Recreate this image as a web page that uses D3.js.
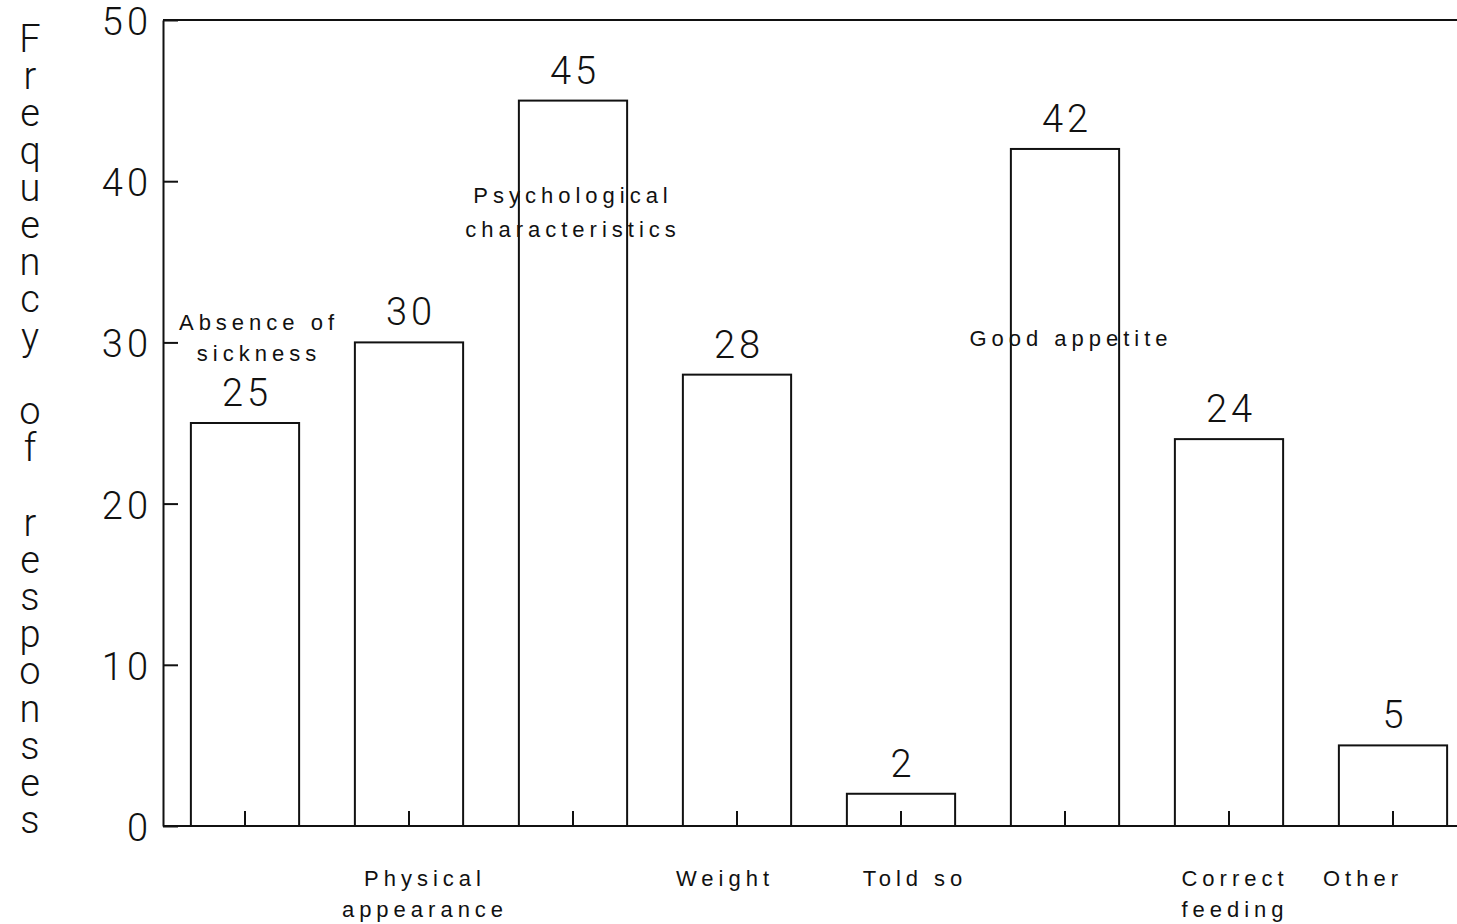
<!DOCTYPE html>
<html>
<head>
<meta charset="utf-8">
<script src="https://cdn.jsdelivr.net/npm/d3@7"></script>
<style>
  html, body { margin: 0; padding: 0; background: #fff; }
  svg { display: block; }
  .num { font-family: Roboto, "Liberation Sans", Arial, sans-serif; font-weight: 300; fill: #111; }
  .lbl { font-family: "Liberation Sans", Arial, sans-serif; fill: #111; letter-spacing: 5px; }
</style>
</head>
<body>
<svg id="chart" width="1457" height="924"></svg>
<script>
// --- DATA ---
var categories = ["Absence of sickness", "Physical appearance", "Psychological characteristics",
                  "Weight", "Told so", "Good appetite", "Correct feeding", "Other"];
var values = [25, 30, 45, 28, 2, 42, 24, 5];
var labelLines = [["Absence of", "sickness"], ["Physical", "appearance"], ["Psychological", "characteristics"],
                  ["Weight"], ["Told so"], ["Good appetite"], ["Correct", "feeding"], ["Other"]];
var labelPlacement = ["above", "below", "inside", "below", "below", "inside", "below", "below"];
var yTicks = [0, 10, 20, 30, 40, 50];
var yTitle = "Frequency of responses";

// --- SETUP ---
var W = 1457, H = 924;
var plotLeft = 163, plotTop = 20, plotBottom = 826;
var svg = d3.select("#chart");

var x = d3.scaleBand()
    .domain(categories)
    .range([plotLeft, plotLeft + 8 * 164])
    .paddingInner(0.34)
    .paddingOuter(0.17);

var y = d3.scaleLinear().domain([0, 50]).range([plotBottom, plotTop]);

// top border
svg.append("line")
    .attr("x1", plotLeft).attr("x2", W)
    .attr("y1", y(50)).attr("y2", y(50))
    .attr("stroke", "#111").attr("stroke-width", 2);

// bars
svg.selectAll("rect.bar")
    .data(categories)
    .enter().append("rect")
    .attr("class", "bar")
    .attr("x", d => x(d))
    .attr("y", (d, i) => y(values[i]))
    .attr("width", x.bandwidth())
    .attr("height", (d, i) => y(0) - y(values[i]))
    .attr("fill", "#fff")
    .attr("stroke", "#111")
    .attr("stroke-width", 2);

// x axis: ticks pointing up into the bars, no labels
var xAxis = svg.append("g")
    .attr("transform", "translate(0," + plotBottom + ")")
    .call(d3.axisBottom(x).tickSize(-15).tickSizeOuter(0).tickFormat(""));
xAxis.select(".domain").attr("d", "M" + plotLeft + ",0H" + W);
xAxis.selectAll("line, path").attr("stroke", "#111").attr("stroke-width", 2);

// y axis: inward ticks
var yAxis = svg.append("g")
    .attr("transform", "translate(" + plotLeft + ",0)")
    .call(d3.axisLeft(y).tickValues(yTicks).tickSize(-15).tickSizeOuter(0).tickPadding(11));
yAxis.selectAll("line, path").attr("stroke", "#111").attr("stroke-width", 2);
yAxis.attr("font-family", null).attr("font-size", null);
yAxis.selectAll("text")
    .attr("class", "num")
    .attr("font-size", 38)
    .attr("dy", "0.38em")
    .attr("fill", null)
    .style("letter-spacing", "4px");

// value labels
svg.selectAll("text.val")
    .data(categories)
    .enter().append("text")
    .attr("class", "num val")
    .attr("x", d => x(d) + x.bandwidth() / 2 + 2)
    .attr("y", (d, i) => y(values[i]) - 17)
    .attr("text-anchor", "middle")
    .attr("font-size", 38)
    .style("letter-spacing", "4px")
    .text((d, i) => values[i]);

// category labels (offsets tuned per label to follow the original layout)
var labelShift = {
    "Absence of sickness": 14, "Physical appearance": 16, "Psychological characteristics": 0,
    "Weight": -12, "Told so": 14, "Good appetite": 6, "Correct feeding": 6, "Other": -30
};
var insideAt = { "Psychological characteristics": 203, "Good appetite": 346 };
categories.forEach(function(c, i) {
    var cx = x(c) + x.bandwidth() / 2;
    var lines = labelLines[i];
    var y0;
    if (labelPlacement[i] === "below") y0 = 886;
    else if (labelPlacement[i] === "inside") y0 = insideAt[c];
    else y0 = y(values[i]) - 17 - 46 - 30 * (lines.length - 1);
    lines.forEach(function(t, j) {
        svg.append("text")
            .attr("class", "lbl")
            .attr("x", cx + labelShift[c])
            .attr("y", y0 + j * (labelPlacement[i] === "inside" ? 34 : 31))
            .attr("text-anchor", "middle")
            .attr("font-size", 22)
            .text(t);
    });
});

// y title, stacked upright letters
var chars = yTitle.split("");
svg.selectAll("text.ytitle")
    .data(chars)
    .enter().append("text")
    .attr("class", "num ytitle")
    .attr("x", 30)
    .attr("y", (d, i) => 52 + i * 37.2)
    .attr("text-anchor", "middle")
    .attr("font-size", 38)
    .text(d => d);
</script>
</body>
</html>
